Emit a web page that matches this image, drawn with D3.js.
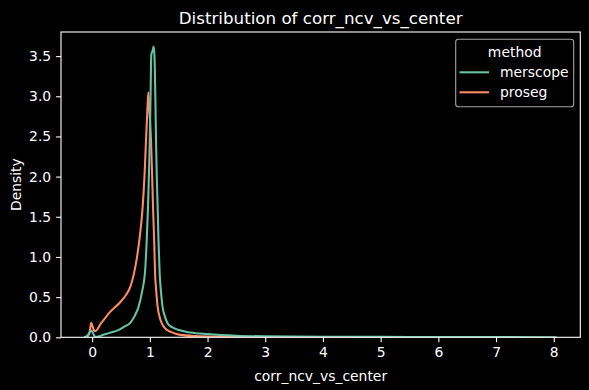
<!DOCTYPE html>
<html>
<head>
<meta charset="utf-8">
<script src="https://cdn.jsdelivr.net/npm/d3@7"></script>
<style>
  html, body { margin: 0; padding: 0; background: #000; }
  svg { display: block; font-family: "DejaVu Sans", sans-serif; }
</style>
</head>
<body>
<svg id="chart" width="589" height="390"></svg>
<script>
// ---- data ----
const seriesNames = ["merscope", "proseg"];
const seriesColors = ["#66c2a5", "#fc8d62"];

const merscopeX = [-0.145, -0.1, -0.05, -0.015, 0.01, 0.04, 0.07, 0.15, 0.3, 0.45, 0.55, 0.66, 0.74, 0.8, 0.86, 0.92, 0.945, 0.968, 0.985, 1.0, 1.012, 1.025, 1.045, 1.066, 1.08, 1.095, 1.107, 1.12, 1.135, 1.15, 1.17, 1.195, 1.22, 1.26, 1.31, 1.4, 1.5, 1.7, 2.0, 2.5, 3.0, 4.0, 5.0, 6.0, 7.0, 8.05];
const merscopeY = [0, 0.01, 0.05, 0.085, 0.06, 0.015, 0.005, 0.02, 0.055, 0.09, 0.13, 0.18, 0.27, 0.37, 0.55, 0.85, 1.2, 1.62, 2.05, 2.5, 3.0, 3.52, 3.56, 3.62, 3.5, 3.0, 2.45, 2.0, 1.62, 1.2, 0.8, 0.55, 0.38, 0.26, 0.17, 0.12, 0.09, 0.06, 0.04, 0.02, 0.012, 0.007, 0.005, 0.004, 0.003, 0.001];

const prosegX = [-0.1, -0.06, -0.035, -0.017, 0.01, 0.035, 0.057, 0.15, 0.316, 0.49, 0.58, 0.662, 0.72, 0.778, 0.83, 0.875, 0.91, 0.933, 0.955, 0.974, 0.995, 1.02, 1.04, 1.055, 1.075, 1.09, 1.11, 1.135, 1.17, 1.21, 1.28, 1.354, 1.527, 1.8, 2.2, 3.0, 4.0, 5.2];
const prosegY = [0, 0.03, 0.1, 0.18, 0.13, 0.08, 0.08, 0.17, 0.32, 0.44, 0.52, 0.63, 0.78, 1.0, 1.28, 1.62, 2.05, 2.45, 2.8, 3.05, 2.8, 2.45, 2.0, 1.62, 1.2, 0.8, 0.58, 0.38, 0.25, 0.17, 0.1, 0.07, 0.03, 0.015, 0.008, 0.004, 0.002, 0.001];

const xTicks = [0, 1, 2, 3, 4, 5, 6, 7, 8];
const yTicks = [0, 0.5, 1.0, 1.5, 2.0, 2.5, 3.0, 3.5];

const titleText = "Distribution of corr_ncv_vs_center";
const xLabel = "corr_ncv_vs_center";
const yLabel = "Density";
const legendTitle = "method";

// ---- layout ----
const svg = d3.select("#chart");
const L = 61, R = 580.3, T = 32, B = 337.3;

svg.append("rect").attr("width", 589).attr("height", 390).attr("fill", "#000");

const x = d3.scaleLinear().domain([-0.54, 8.46]).range([L, R]);
const y = d3.scaleLinear().domain([0, 3.8]).range([B, T]);

const series = [
  { name: seriesNames[0], color: seriesColors[0], pts: merscopeX.map((v, i) => [v, merscopeY[i]]) },
  { name: seriesNames[1], color: seriesColors[1], pts: prosegX.map((v, i) => [v, prosegY[i]]) }
];

const line = d3.line().x(d => x(d[0])).y(d => y(d[1])).curve(d3.curveMonotoneX);

const plot = svg.append("g");
plot.append("defs").append("clipPath").attr("id", "clip")
  .append("rect").attr("x", L).attr("y", T).attr("width", R - L).attr("height", B - T);

// draw proseg first? seaborn draws in hue order reversed; merscope appears on top in tails
const lines = plot.append("g").attr("clip-path", "url(#clip)");
[series[1], series[0]].forEach(s => {
  lines.append("path").datum(s.pts)
    .attr("d", line)
    .attr("fill", "none")
    .attr("stroke", s.color)
    .attr("stroke-width", 2.08)
    .attr("stroke-linejoin", "round");
});

// axes
const fs = "13.9px";
const xAxis = svg.append("g").attr("transform", `translate(0,${B})`)
  .call(d3.axisBottom(x).tickValues(xTicks).tickFormat(d3.format("d")).tickSize(4.9).tickPadding(4.9));
const yAxis = svg.append("g").attr("transform", `translate(${L},0)`)
  .call(d3.axisLeft(y).tickValues(yTicks).tickFormat(d3.format(".1f")).tickSize(4.9).tickPadding(4.9));

[xAxis, yAxis].forEach(a => {
  a.select(".domain").remove();
  a.selectAll(".tick line").attr("stroke", "#fff").attr("stroke-width", 1.1);
  a.selectAll(".tick text").attr("fill", "#fff").style("font-size", fs).style("font-family", "DejaVu Sans");
});

// spines
svg.append("rect").attr("x", L).attr("y", T).attr("width", R - L).attr("height", B - T)
  .attr("fill", "none").attr("stroke", "#fff").attr("stroke-width", 1.1);

// title and labels
svg.append("text").attr("x", (L + R) / 2).attr("y", 24).attr("text-anchor", "middle")
  .attr("fill", "#fff").style("font-size", "16.7px").text(titleText);
svg.append("text").attr("x", (L + R) / 2).attr("y", 381).attr("text-anchor", "middle")
  .attr("fill", "#fff").style("font-size", fs).text(xLabel);
svg.append("text").attr("transform", `translate(21,${(T + B) / 2}) rotate(-90)`)
  .attr("text-anchor", "middle").attr("fill", "#fff").style("font-size", fs).text(yLabel);

// legend
const lg = svg.append("g");
lg.append("rect").attr("x", 455.7).attr("y", 39.3).attr("width", 118).attr("height", 67.4)
  .attr("rx", 2.8).attr("fill", "#000").attr("fill-opacity", 0.8)
  .attr("stroke", "#cccccc").attr("stroke-opacity", 0.8).attr("stroke-width", 1.1);
lg.append("text").attr("x", 514.7).attr("y", 56.5).attr("text-anchor", "middle")
  .attr("fill", "#fff").style("font-size", fs).text(legendTitle);
series.forEach((s, i) => {
  const yy = 72.3 + i * 20;
  lg.append("line").attr("x1", 459.5).attr("x2", 489).attr("y1", yy).attr("y2", yy)
    .attr("stroke", s.color).attr("stroke-width", 2.08);
  lg.append("text").attr("x", 500).attr("y", yy + 4.8).attr("fill", "#fff")
    .style("font-size", fs).text(s.name);
});
</script>
</body>
</html>
